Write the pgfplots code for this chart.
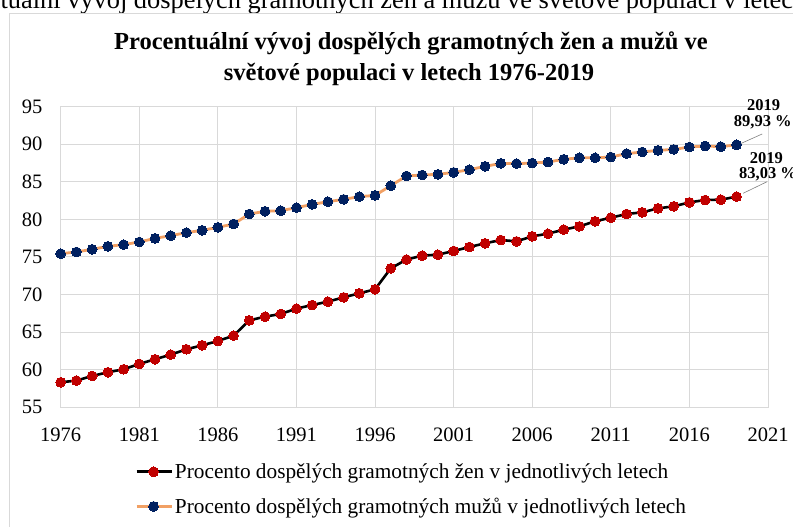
\documentclass[border=0pt]{standalone}
\usepackage{pgfplots}
\pgfplotsset{compat=1.18}
\usepackage{fontspec}
\setmainfont{Liberation Serif}
\definecolor{wred}{RGB}{192,0,0}
\definecolor{mnavy}{RGB}{0,32,96}
\definecolor{morange}{RGB}{241,160,100}
\definecolor{gridgray}{RGB}{217,217,217}
\pgfplotstableread{
year val
1976 58.33
1977 58.55
1978 59.17
1979 59.66
1980 60.06
1981 60.77
1982 61.39
1983 62.01
1984 62.72
1985 63.25
1986 63.82
1987 64.53
1988 66.57
1989 67.06
1990 67.42
1991 68.13
1992 68.61
1993 69.06
1994 69.63
1995 70.17
1996 70.70
1997 73.49
1998 74.66
1999 75.18
2000 75.31
2001 75.80
2002 76.33
2003 76.82
2004 77.26
2005 77.08
2006 77.75
2007 78.10
2008 78.64
2009 79.08
2010 79.75
2011 80.23
2012 80.72
2013 80.94
2014 81.47
2015 81.74
2016 82.27
2017 82.58
2018 82.63
2019 83.03
}\women
\pgfplotstableread{
year val
1976 75.44
1977 75.67
1978 76.02
1979 76.42
1980 76.64
1981 77.00
1982 77.48
1983 77.84
1984 78.24
1985 78.55
1986 78.95
1987 79.39
1988 80.72
1989 81.08
1990 81.16
1991 81.56
1992 82.00
1993 82.36
1994 82.67
1995 83.03
1996 83.20
1997 84.49
1998 85.78
1999 85.91
2000 86.00
2001 86.26
2002 86.62
2003 87.06
2004 87.46
2005 87.42
2006 87.50
2007 87.64
2008 88.00
2009 88.20
2010 88.20
2011 88.30
2012 88.75
2013 88.97
2014 89.19
2015 89.32
2016 89.63
2017 89.77
2018 89.68
2019 89.93
}\men
\begin{document}
\begin{tikzpicture}[x=1pt,y=1pt]
\node[anchor=base west, inner sep=0pt, font=\fontsize{26.4}{30}\selectfont] at (-73,518) {Procentuální vývoj dospělých gramotných žen a mužů ve světové populaci v letech 1976-2019};
\draw[gridgray, line width=1pt] (9,-20) -- (9,513) -- (820,513);
\node[font=\fontsize{24.5}{31}\selectfont\bfseries, anchor=base, inner sep=0pt] at (411,477) {Procentuální vývoj dospělých gramotných žen a mužů ve};
\node[font=\fontsize{24.5}{31}\selectfont\bfseries, anchor=base, inner sep=0pt] at (409,446) {světové populaci v letech 1976-2019};
\begin{axis}[
  at={(60.7pt,119.7pt)}, anchor=south west,
  scale only axis, width=707.3pt, height=300.6pt,
  xmin=1976, xmax=2021, ymin=55, ymax=95,
  xtick={1976,1981,...,2021}, ytick={55,60,...,95},
  /pgf/number format/assume math mode=true,
  /pgf/number format/1000 sep={},
  grid=major, major grid style={gridgray, line width=1pt},
  axis line style={gridgray, line width=1pt},
  major tick length=0pt,
  tick label style={font=\fontsize{20.5}{24}\selectfont, inner sep=0pt},
  yticklabel style={anchor=east, xshift=-18pt},
  xticklabel style={anchor=north, yshift=-20pt},
  clip=false,
  legend style={at={(0.105,-0.18)}, anchor=north west, draw=none, fill=none,
    inner sep=0pt, row sep=14pt, font=\fontsize{21.3}{25}\selectfont,
    nodes={inner sep=2pt}, cells={anchor=west}},
  legend image code/.code={\draw[mark repeat=2, mark phase=2] plot coordinates {(0pt,0pt) (17pt,0pt) (35pt,0pt)};},
]
\addplot[black, line width=2.6pt, mark=*, mark size=4.9pt, mark options={draw=wred, fill=wred, line width=0pt}] table[x=year, y=val] {\women};
\addlegendentry{Procento dospělých gramotných žen v jednotlivých letech}
\addplot[morange, line width=2.8pt, mark=*, mark size=4.9pt, mark options={draw=mnavy, fill=mnavy, line width=0pt}] table[x=year, y=val] {\men};
\addlegendentry{Procento dospělých gramotných mužů v jednotlivých letech}
\draw[gray, line width=0.6pt] (axis cs:2019.21,90.04) -- (axis cs:2020.63,91.37);
\draw[gray, line width=0.6pt] (axis cs:2019.42,83.48) -- (axis cs:2020.94,85.02);
\node[anchor=base, inner sep=0pt, font=\fontsize{16.5}{18}\selectfont\bfseries] at (axis cs:2020.72,94.56) {2019};
\node[anchor=base, inner sep=0pt, font=\fontsize{16.5}{18}\selectfont\bfseries] at (axis cs:2020.67,92.34) {89,93 \%};
\node[anchor=base, inner sep=0pt, font=\fontsize{16.5}{18}\selectfont\bfseries] at (axis cs:2020.9,87.46) {2019};
\node[anchor=base, inner sep=0pt, font=\fontsize{16.5}{18}\selectfont\bfseries] at (axis cs:2021.0,85.46) {83,03 \%};
\end{axis}
\pgfresetboundingbox
\useasboundingbox (0,0) rectangle (793,527);
\end{tikzpicture}
\end{document}
